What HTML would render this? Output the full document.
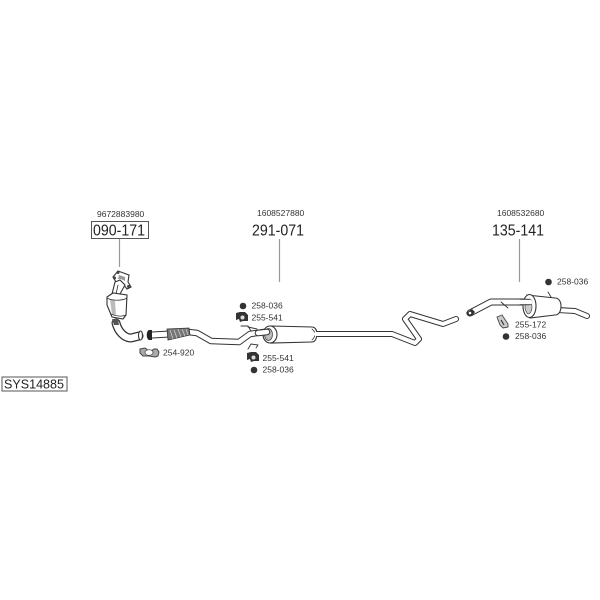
<!DOCTYPE html>
<html>
<head>
<meta charset="utf-8">
<style>
html,body{margin:0;padding:0;background:#fff;width:600px;height:600px;overflow:hidden}
svg{display:block;filter:blur(.35px)}
text{font-family:"Liberation Sans",sans-serif;fill:#333}
.s{font-size:8.5px}
.l{font-size:15.500px;fill:#222}
.o{fill:none;stroke:#333;stroke-linejoin:round;stroke-linecap:round}
.w{fill:none;stroke:#fff;stroke-linejoin:round;stroke-linecap:round}
.b{fill:#fff;stroke:#333;stroke-width:1.100}
</style>
</head>
<body>
<svg width="600" height="600" viewBox="0 0 600 600" xmlns="http://www.w3.org/2000/svg">
<!-- labels top -->
<text class="s" x="97" y="217">9672883980</text>
<text class="s" x="257" y="216">1608527880</text>
<text class="s" x="497" y="216">1608532680</text>
<rect x="91.500" y="221.500" width="57" height="17" fill="#fff" stroke="#555" stroke-width="1"/>
<text class="l" x="93" y="235.500" textLength="52" lengthAdjust="spacingAndGlyphs">090-171</text>
<text class="l" x="252" y="235.500" textLength="52" lengthAdjust="spacingAndGlyphs">291-071</text>
<text class="l" x="492" y="235.500" textLength="52" lengthAdjust="spacingAndGlyphs">135-141</text>
<line x1="119.500" y1="239" x2="119.500" y2="267" stroke="#999" stroke-width="1.200"/>
<line x1="279.500" y1="239" x2="279.500" y2="282" stroke="#999" stroke-width="1.200"/>
<line x1="519.500" y1="239" x2="519.500" y2="282" stroke="#999" stroke-width="1.200"/>
<rect x="2" y="377" width="65" height="14" fill="#fff" stroke="#555" stroke-width="1"/>
<text x="4" y="388.500" style="font-size:13px;fill:#222" textLength="60" lengthAdjust="spacingAndGlyphs">SYS14885</text>

<!-- catalytic converter -->
<path class="b" d="M113 277L118 271 129 275 128 282 131 287 127 289 123 284 120 282 116 282z"/>
<circle cx="118" cy="272.500" r="1.500" fill="#444"/>
<circle cx="114.500" cy="278" r="1.500" fill="#444"/>
<circle cx="128.500" cy="286.500" r="1.500" fill="#444"/>
<path d="M119 275l6 2 0 4-4-2-3 0z" fill="#999"/>
<path class="b" d="M112 294L115 282 120 280 125 285 120 294z"/>
<path class="o" stroke-width=".8" d="M116 294L118 285"/>
<path class="b" d="M107 297L113 293 127 295 126 315 123 319 112 317 107 305z"/>
<path fill="#bbb" d="M110 300l5 1 1 14-4-1z"/>
<path class="o" stroke-width=".8" d="M107 298c5 3 15 3 20 0M111 314c4 2 11 3 15 1"/>
<!-- front bent pipe -->
<path class="o" stroke-width="9" d="M116 323C118 331 124 338 131 338L139 336"/>
<path class="w" stroke-width="6.500" d="M116 323C118 331 124 338 131 338L139 336"/>
<ellipse class="b" cx="140.500" cy="335.500" rx="2" ry="4.500"/>
<path d="M112 319l6 0 1 6-5 0z" fill="#555"/>
<!-- front main pipe -->
<path class="o" stroke-width="7" d="M152 335L170 334"/>
<path class="w" stroke-width="5" d="M152 335L170 334"/>
<path d="M149 330c-3 1-3 9 0 10l3 0 0-10z" fill="#222"/>
<path class="o" stroke-width="6.500" d="M188 332L197 333 211 341 239 342 250 334 264 332"/>
<path class="w" stroke-width="4.500" d="M188 332L197 333 211 341 239 342 250 334 264 332"/>
<!-- flex -->
<path d="M167 329L189 328 190 335 168 340z" fill="#777" stroke="#333" stroke-width=".8"/>
<path d="M170 330l3 9M174 330l3 8M178 329l3 8M182 329l3 7M186 329l2 6" stroke="#ccc" stroke-width=".8"/>
<!-- hanger rods -->
<path class="o" stroke-width=".9" d="M241 326l7 0 3 5M248 349l3-5 7 1-2 3M248 327l9 2"/>
<!-- center muffler -->
<path class="b" d="M271 326L312 327c3 0 5 3 5 7s-2 8-5 8L271 343z"/>
<path class="o" stroke-width=".8" d="M312 329c2 2 3 3 3 5s-1 4-3 6"/>
<ellipse cx="270" cy="334.500" rx="7" ry="8.500" fill="#fff" stroke="#333" stroke-width="1.100"/>
<ellipse cx="268.500" cy="334.500" rx="4" ry="6" fill="#bbb" stroke="#333" stroke-width=".7"/>
<path class="o" stroke-width="6.500" d="M258 333L267 332"/>
<path class="w" stroke-width="4.500" d="M258 333L267 332"/>
<!-- middle pipe -->
<path class="o" stroke-width="6" d="M318 334L392 334 415 343 419 339 405 319 410 314 443 324 456 319"/>
<path class="w" stroke-width="4" d="M316 334L392 334 415 343 419 339 405 319 410 314 443 324 456 319"/>
<!-- rear pipe -->
<path class="o" stroke-width="7" d="M470 313L491 302 530 302"/>
<path class="w" stroke-width="5" d="M470 313L491 302 531 302"/>
<path d="M466 313l6-4 3 3-3 4-4 0z" fill="#333"/>
<circle cx="470" cy="313" r="1.300" fill="#fff"/>
<path class="o" stroke-width=".9" d="M501 302l7 6"/>
<!-- tail pipe -->
<path class="o" stroke-width="6" d="M558 310L575 311 587 316"/>
<path class="w" stroke-width="4" d="M556 310L575 311 587 316"/>
<!-- rear muffler -->
<path class="b" d="M527 295L555 298c4 0 6 4 6 8 0 5-2 9-6 9L530 318z"/>
<ellipse cx="529.500" cy="306" rx="6.500" ry="11.500" fill="#fff" stroke="#333" stroke-width="1.100"/>
<path d="M527 301c2 0 5 2 5 6 0 4-2 7-4 7-2-2-3-4-3-7 0-3 1-5 2-6z" fill="#ccc" stroke="#333" stroke-width=".6"/>
<path class="o" stroke-width="6.500" d="M522 302L529 302"/>
<path class="w" stroke-width="4.500" d="M518 302L530 302"/>
<path class="o" stroke-width=".9" d="M548 292l3 5"/>

<!-- small parts -->
<path d="M140 349l5-1 3 2c2 1 4 1 6-1l3 0 2 3-1 4-3 1-6-1-6 0-3-3z" fill="#aaa" stroke="#444" stroke-width="1"/>
<ellipse cx="149" cy="352.500" rx="4" ry="2.800" fill="#fff" stroke="#444" stroke-width=".7"/>
<text class="s" x="163" y="355.500">254-920</text>

<circle cx="243" cy="306" r="3.300" fill="#333"/>
<text class="s" x="251.500" y="308.500">258-036</text>
<path d="M236 313l4-1 5 0 3 3 0 6-5 0-3 1-1-3-3 1z" fill="#333"/>
<circle cx="242.500" cy="317.500" r="2" fill="#ddd"/>
<text class="s" x="251.500" y="320.500">255-541</text>
<path d="M247 353l4-1 5 0 3 3 0 6-5 0-3 1-1-3-3 1z" fill="#333"/>
<circle cx="253.500" cy="357.500" r="2" fill="#ddd"/>
<text class="s" x="262.500" y="361">255-541</text>
<circle cx="254" cy="370" r="3.300" fill="#333"/>
<text class="s" x="262.500" y="372.500">258-036</text>

<circle cx="548.500" cy="282" r="3.300" fill="#333"/>
<text class="s" x="557" y="284.500">258-036</text>
<path d="M497 317l5-2 6 9 0 3-5 1-3-3z" fill="#ccc" stroke="#444" stroke-width=".9"/>
<path d="M501 320l3 5" stroke="#333" stroke-width="1.200"/>
<text class="s" x="515" y="327.500">255-172</text>
<circle cx="506" cy="336.500" r="3.300" fill="#333"/>
<text class="s" x="515" y="339">258-036</text>
</svg>
</body>
</html>
